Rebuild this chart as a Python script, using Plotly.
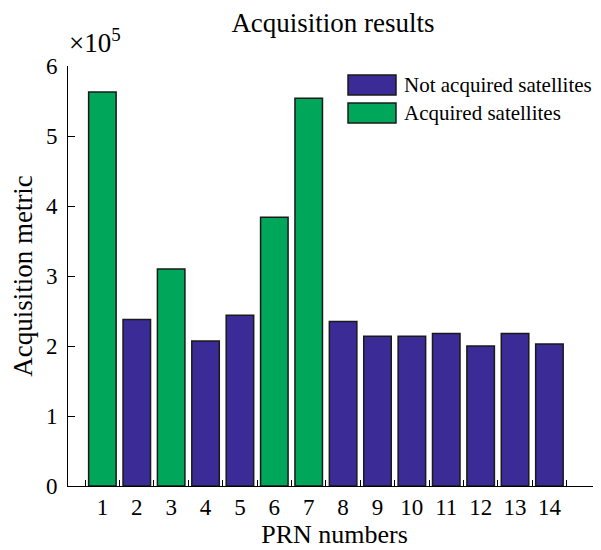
import plotly.graph_objects as go

prn = list(range(1, 15))
metric = [5.63, 2.38, 3.10, 2.07, 2.44, 3.84, 5.54, 2.35, 2.14, 2.14, 2.18, 2.00, 2.18, 2.03]
acquired = [1, 3, 6, 7]
tick_labels = [str(p) for p in prn]

BLUE = "#3B2B97"
GREEN = "#00A65A"
EDGE = "#1a1a1a"
FONT = "Liberation Serif, Times New Roman, serif"
TICK_FS = 23
TITLE_FS = 27

acq_x = [p for p in prn if p in acquired]
acq_y = [m for p, m in zip(prn, metric) if p in acquired]
not_x = [p for p in prn if p not in acquired]
not_y = [m for p, m in zip(prn, metric) if p not in acquired]

fig = go.Figure()
fig.add_trace(go.Bar(x=not_x, y=not_y, width=0.8, name="Not acquired satellites",
                     marker=dict(color=BLUE, line=dict(color=EDGE, width=1.5))))
fig.add_trace(go.Bar(x=acq_x, y=acq_y, width=0.8, name="Acquired satellites",
                     marker=dict(color=GREEN, line=dict(color=EDGE, width=1.5))))

W, H = 593, 542
L, T, B, R = 60, 58, 64, 0
PW, PH = W - L - R, H - T - B

def px(x):
    return (x - 8 - L) / PW

def py(y):
    return (H - B - (y - 8)) / PH

fig.update_layout(
    width=W, height=H,
    margin=dict(l=L, r=R, t=T, b=B, autoexpand=False),
    paper_bgcolor="white", plot_bgcolor="white",
    font=dict(family=FONT, size=TICK_FS, color="black"),
    showlegend=False,
    barmode="overlay",
    title=dict(text="Acquisition results", x=(333 - 8) / W, xanchor="center",
               y=1 - (23 - 8) / H, yanchor="middle", font=dict(size=TITLE_FS), automargin=False),
)
fig.update_xaxes(
    range=[0, 15.5], tickmode="array", tickvals=prn, ticktext=tick_labels,
    ticks="", showline=True, linecolor="black", linewidth=1, showgrid=False, zeroline=False,
    minor=dict(tickmode="array", tickvals=[p + 0.5 for p in [0] + prn], ticks="inside",
               ticklen=6, tickcolor="black", tickwidth=1, showgrid=False),
    ticklabelstandoff=0,
    title=dict(text="PRN numbers", standoff=6, font=dict(size=26)),
    tickfont=dict(size=TICK_FS), automargin=False,
)
fig.update_yaxes(
    range=[0, 6], tickvals=[0, 1, 2, 3, 4, 5, 6], ticks="inside", ticklen=7, tickcolor="black",
    showline=True, linecolor="black", linewidth=1, showgrid=False, zeroline=False,
    ticklabelstandoff=5,
    title=dict(text="Acquisition metric", standoff=10, font=dict(size=TITLE_FS)),
    tickfont=dict(size=TICK_FS), automargin=False,
)

fig.add_annotation(text="×10<sup>5</sup>", xref="paper", yref="paper", x=px(67), y=py(60),
                   xanchor="left", yanchor="bottom", showarrow=False, font=dict(size=27))

# legend drawn as swatches + text
legend_items = [("Not acquired satellites", BLUE, 75, 95), ("Acquired satellites", GREEN, 103, 123)]
for label, color, ytop, ybot in legend_items:
    fig.add_shape(type="rect", xref="paper", yref="paper",
                  x0=px(348), x1=px(396), y0=py(ybot), y1=py(ytop),
                  fillcolor=color, line=dict(color=EDGE, width=1.5))
    fig.add_annotation(text=label, xref="paper", yref="paper", x=px(402), y=py((ytop + ybot) / 2),
                       xanchor="left", yanchor="middle", showarrow=False, font=dict(size=21))

fig.write_html("out.html")
